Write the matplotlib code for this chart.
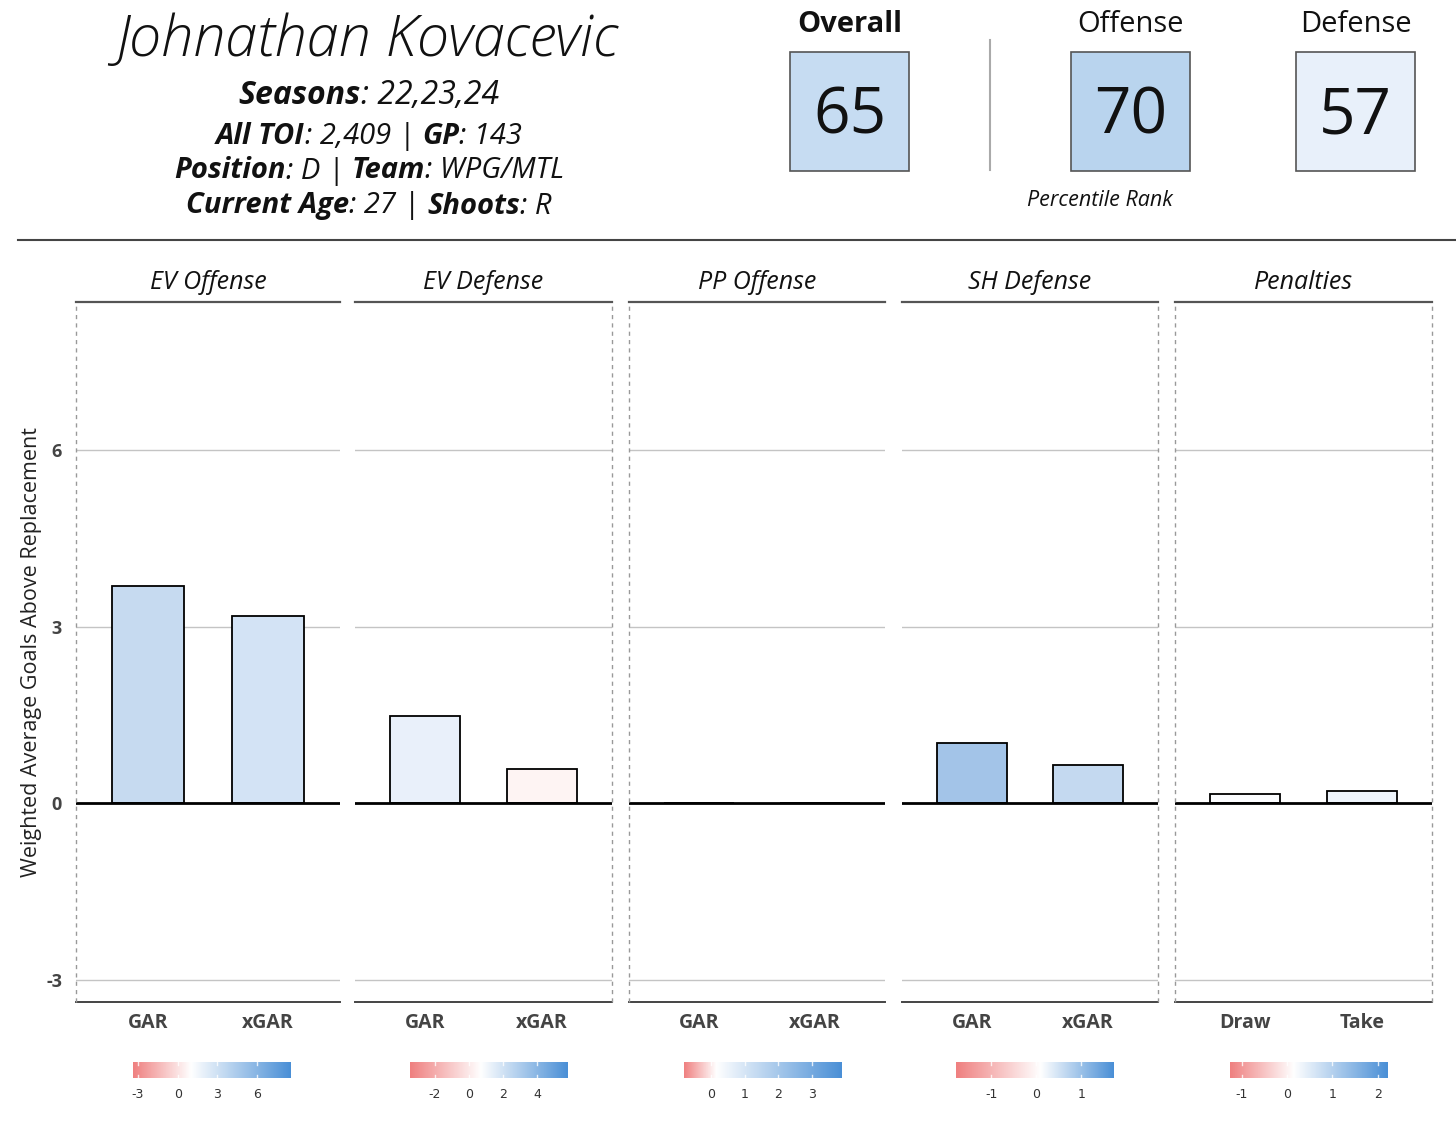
import matplotlib
matplotlib.use("Agg")
import matplotlib.pyplot as plt
import numpy as np
from matplotlib.colors import LinearSegmentedColormap, TwoSlopeNorm
from matplotlib.patches import Rectangle

# ---------------- data ----------------
player = "Johnathan Kovacevic"
info_lines = [
    [("Seasons", True), (": 22,23,24", False)],
    [("All TOI", True), (": 2,409 | ", False), ("GP", True), (": 143", False)],
    [("Position", True), (": D | ", False), ("Team", True), (": WPG/MTL", False)],
    [("Current Age", True), (": 27 | ", False), ("Shoots", True), (": R", False)],
]
rank_labels = ["Overall", "Offense", "Defense"]
rank_values = [65, 70, 57]

panel_titles = ["EV Offense", "EV Defense", "PP Offense", "SH Defense", "Penalties"]
panel_cats = [["GAR", "xGAR"], ["GAR", "xGAR"], ["GAR", "xGAR"], ["GAR", "xGAR"], ["Draw", "Take"]]
panel_values = [[3.69, 3.18], [1.48, 0.58], [0.01, 0.01], [1.02, 0.65], [0.15, 0.20]]

cb_limits = [(-3.37, 8.55), (-3.47, 5.82), (-0.81, 3.90), (-1.78, 1.73), (-1.26, 2.23)]
cb_mids = [1.0, 0.7, 0.15, 0.1, 0.15]
cb_ticks = [[-3, 0, 3, 6], [-2, 0, 2, 4], [0, 1, 2, 3], [-1, 0, 1], [-1, 0, 1, 2]]

y_ticks = [-3, 0, 3, 6]
y_label = "Weighted Average Goals Above Replacement"

# ---------------- styles ----------------
bar_fills = [["#c6daf0", "#d3e3f5"], ["#e9f0fa", "#fef4f3"], ["#ffffff", "#ffffff"],
             ["#a3c4e8", "#c4d9f0"], ["#fcfdff", "#eef4fb"]]
rank_fills = ["#c6dcf2", "#b9d4ee", "#e8f0fa"]
FONT = "Open Sans"

W, H = 1456, 1124
fig = plt.figure(figsize=(W / 100, H / 100), dpi=100)
fig.patch.set_facecolor("white")


def px_axes(x0, y0, x1, y1):
    return fig.add_axes([x0 / W, 1 - y1 / H, (x1 - x0) / W, (y1 - y0) / H])


def fx(x):
    return x / W


def fy(y):
    return 1 - y / H


# ---------------- header ----------------
fig.text(fx(367), fy(41), player, fontsize=41.5, style="italic", weight="light",
         family=FONT, ha="center", va="center", color="#111")

renderer = fig.canvas.get_renderer()


def mixed_line(xc, yc, segs, size):
    texts = []
    for s, b in segs:
        t = fig.text(0, fy(yc), s, fontsize=size, style="italic",
                     weight="bold" if b else "normal", family=FONT,
                     ha="left", va="center", color="#111")
        texts.append(t)
    widths = [t.get_window_extent(renderer).width for t in texts]
    total = sum(widths)
    x = xc - total / 2
    for t, w in zip(texts, widths):
        t.set_x(fx(x))
        x += w


line_y = [95, 136, 171, 206]
line_sz = [23, 21, 21, 21]
for segs, yy, sz in zip(info_lines, line_y, line_sz):
    mixed_line(369, yy, segs, sz)

box_x = [790, 1071, 1296]
for lab, val, bx, fc, i in zip(rank_labels, rank_values, box_x, rank_fills, range(3)):
    cx = bx + 59.5
    fig.text(fx(cx), fy(25), lab, fontsize=21, family=FONT,
             weight="bold" if i == 0 else "normal", ha="center", va="center", color="#111")
    fig.patches.append(Rectangle((fx(bx), fy(171)), fx(119), 119 / H, transform=fig.transFigure,
                                 facecolor=fc, edgecolor="#555555", lw=1.2))
    fig.text(fx(cx), fy(117), str(val), fontsize=46, family=FONT, ha="center", va="center",
             color="#111")

fig.lines.append(plt.Line2D([fx(990), fx(990)], [fy(40), fy(170)], transform=fig.transFigure,
                            color="#aaaaaa", lw=1.5))
fig.text(fx(1100), fy(201), "Percentile Rank", fontsize=15.5, style="italic", family=FONT,
         ha="center", va="center", color="#111")
fig.lines.append(plt.Line2D([fx(18), fx(1456)], [fy(240), fy(240)], transform=fig.transFigure,
                            color="#444444", lw=1.5))

# ---------------- panels ----------------
panel_x = [(76, 340), (355, 612), (629, 885), (902, 1158), (1175, 1432)]
cb_x = [133, 410, 684, 956, 1230]
dashed = [(True, False), (False, True), (True, False), (False, True), (True, True)]
ylim = (-3.38, 8.52)
cmap = LinearSegmentedColormap.from_list("rwb", ["#ef8080", "#ffffff", "#4a8fd6"])

for i in range(5):
    x0, x1 = panel_x[i]
    ax = px_axes(x0, 302, x1, 1002)
    ax.set_xlim(0.4, 2.6)
    ax.set_ylim(*ylim)
    for s in ax.spines.values():
        s.set_visible(False)
    for g in [-3, 3, 6]:
        ax.axhline(g, color="#c4c4c4", lw=1.0, zorder=1)
    ax.axhline(ylim[1], color="#555555", lw=1.6, zorder=5, clip_on=False)
    ax.axhline(ylim[0], color="#444444", lw=1.4, zorder=5, clip_on=False)
    ax.axhline(0, color="black", lw=2.0, zorder=4)
    if dashed[i][0]:
        ax.axvline(0.4, color="#999999", lw=1.0, ls=(0, (3, 3)), zorder=5, clip_on=False)
    if dashed[i][1]:
        ax.axvline(2.6, color="#999999", lw=1.0, ls=(0, (3, 3)), zorder=5, clip_on=False)
    xs = np.arange(1, len(panel_cats[i]) + 1)
    ax.bar(xs, panel_values[i], width=0.6, color=bar_fills[i], edgecolor="black",
           lw=1.3, zorder=3)
    ax.set_xticks(xs)
    ax.set_xticklabels(panel_cats[i], fontsize=14, weight="bold", family=FONT, color="#444444")
    ax.tick_params(axis="x", length=0, pad=8)
    if i == 0:
        ax.set_yticks(y_ticks)
        ax.set_yticklabels([str(t) for t in y_ticks], fontsize=13, weight="bold",
                           family=FONT, color="#444444")
        ax.tick_params(axis="y", length=0, pad=10)
    else:
        ax.set_yticks([])
    ax.set_title(panel_titles[i], fontsize=18, style="italic", family=FONT, pad=9.5,
                 color="#111")

    # colorbar
    cx0 = cb_x[i]
    cax = px_axes(cx0, 1062, cx0 + 158, 1078)
    lo, hi = cb_limits[i]
    norm = TwoSlopeNorm(vcenter=cb_mids[i], vmin=lo, vmax=hi)
    grad = np.linspace(lo, hi, 400)[None, :]
    cax.imshow(grad, extent=[lo, hi, 0, 1], aspect="auto", cmap=cmap, norm=norm)
    cax.set_xlim(lo, hi)
    cax.set_ylim(0, 1)
    for s in cax.spines.values():
        s.set_visible(False)
    cax.set_yticks([])
    cax.set_xticks(cb_ticks[i])
    cax.set_xticklabels([str(t) for t in cb_ticks[i]], fontsize=9, color="#333333",
                        family="DejaVu Sans")
    cax.tick_params(axis="x", length=0, pad=7)
    for t in cb_ticks[i]:
        cax.plot([t, t], [0, 0.2], color="white", lw=1, alpha=0.8)
        cax.plot([t, t], [0.8, 1], color="white", lw=1, alpha=0.8)

fig.text(fx(32), fy(652), y_label, rotation=90, fontsize=15.5, family=FONT,
         ha="center", va="center", color="#222222")

fig.savefig("out.png", dpi=100, facecolor="white")
